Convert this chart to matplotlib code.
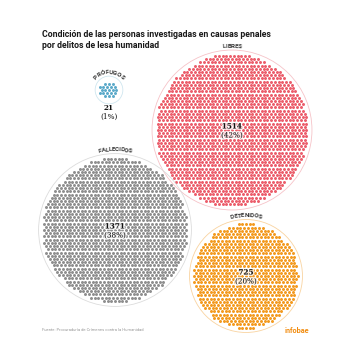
import numpy as np
import matplotlib
matplotlib.use("Agg")
import matplotlib.pyplot as plt
import matplotlib.patheffects as pe
from matplotlib.font_manager import FontProperties

# data
categories = ['LIBRES', 'FALLECIDOS', 'DETENIDOS', 'PRÓFUGOS']
counts = [1514, 1371, 725, 21]
percents = [42, 38, 20, 1]
colors = ['#ec5d6b', '#8e8e8e', '#f39a1e', '#5aa9c9']
ring_colors = ['#f6c3c8', '#dcdcdc', '#f9d3a0', '#cfe6ef']

# layout (pixel coords, y down)
centers = [(232, 130), (115, 230), (246, 276), (109, 90)]
spacing = 3.72

title = 'Condición de las personas investigadas en causas penales\npor delitos de lesa humanidad'
source = 'Fuente: Procuraduría de Crímenes contra la Humanidad'


def hex_points(n, d):
    k = int(np.sqrt(n)) + 4
    pts = []
    for j in range(-k, k + 1):
        for i in range(-k, k + 1):
            x = (i + 0.5 * (j % 2)) * d
            y = j * d * np.sqrt(3) / 2
            pts.append((x, y))
    pts = np.array(pts)
    dist = np.round(np.hypot(pts[:, 0], pts[:, 1]), 6)
    order = np.lexsort((pts[:, 0], dist))
    return pts[order[:n]]


fig = plt.figure(figsize=(3.5, 3.6), dpi=100)
ax = fig.add_axes([0, 0, 1, 1])
ax.set_xlim(0, 350)
ax.set_ylim(360, 0)
ax.axis('off')

fig.canvas.draw()
renderer = fig.canvas.get_renderer()
label_font = FontProperties(family='Roboto', weight='bold', size=4.5)


def curved_text(text, cx, cy, radius, color='#333333'):
    widths = []
    for ch in text:
        w, h, dsc = renderer.get_text_width_height_descent(ch, label_font, ismath=False)
        widths.append(w * 0.92)
    total = sum(widths)
    ang = np.pi / 2 + (total / radius) / 2
    for ch, w in zip(text, widths):
        a = ang - (w / 2) / radius
        x = cx + radius * np.cos(a)
        y = cy - radius * np.sin(a)
        ax.text(x, y, ch, fontproperties=label_font, color=color,
                rotation=np.degrees(a) - 90, rotation_mode='anchor',
                ha='center', va='baseline')
        ang -= w / radius


halo = [pe.withStroke(linewidth=2.0, foreground='white', alpha=0.7)]

for cat, n, pct, col, rcol, (cx, cy) in zip(categories, counts, percents,
                                            colors, ring_colors, centers):
    pts = hex_points(n, spacing)
    r_fill = np.hypot(pts[:, 0], pts[:, 1]).max() + 1.5
    r_ring = r_fill + 2.5
    ax.add_patch(plt.Circle((cx, cy), r_ring, fill=False, ec=rcol, lw=0.6))
    ax.scatter(pts[:, 0] + cx, pts[:, 1] + cy, s=4.6, c=col, linewidths=0)
    curved_text(cat, cx, cy, r_ring + 2.5)
    if n > 100:
        ax.text(cx, cy - 3.5, str(n), ha='center', va='center',
                family='DejaVu Serif', weight='bold', size=5.2, color='#111111',
                path_effects=halo)
        ax.text(cx, cy + 5.5, '(%d%%)' % pct, ha='center', va='center',
                family='DejaVu Serif', size=5.2, color='#111111',
                path_effects=halo)
    else:
        ax.text(cx, cy + r_ring + 4.5, str(n), ha='center', va='center',
                family='DejaVu Serif', weight='bold', size=5.2, color='#111111')
        ax.text(cx, cy + r_ring + 13, '(%d%%)' % pct, ha='center', va='center',
                family='DejaVu Serif', size=5.2, color='#111111')

ax.text(42, 40, title, ha='left', va='center', family='Roboto', weight='bold',
        size=6.3, color='#1a1a1a', linespacing=1.35)
ax.text(42, 330, source, ha='left', va='center', family='Roboto', size=3.0,
        color='#9a9a9a')
ax.text(285, 331, 'infobae', ha='left', va='center', family='Roboto',
        weight='bold', size=5.2, color='#f28c0f')

fig.savefig('out.png', dpi=100, facecolor='white')
